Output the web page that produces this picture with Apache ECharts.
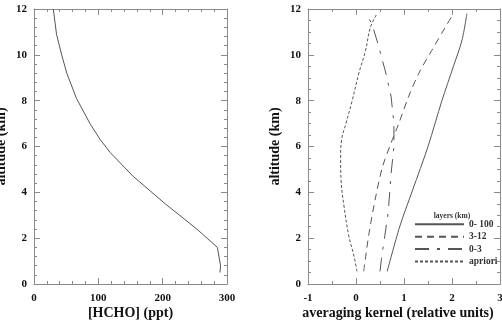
<!DOCTYPE html>
<html>
<head>
<meta charset="utf-8">
<script src="https://cdn.jsdelivr.net/npm/echarts@6/dist/echarts.min.js"></script>
<style>
  html, body { margin: 0; padding: 0; background: #fff; }
  #chart { width: 502px; height: 320px; }
</style>
</head>
<body>
<div id="chart"></div>
<script>
// 左图：HCHO 廓线
const hchoAlt = [0.5, 0.8, 1.6, 2.4, 3.5, 4.7, 5.75, 6.3, 7.0, 8.1, 9.2, 10.0, 10.9, 12.0];
const hchoVal = [289, 290, 285, 253, 204, 154, 118, 103, 87, 66, 51, 43, 35, 30];

// 右图：平均核
const solidAlt = [0.55, 2.5, 4.1, 6.0, 8.0, 9.5, 10.65, 11.8];
const solidVal = [0.65, 0.91, 1.18, 1.5, 1.79, 2.03, 2.21, 2.31];

const dashAlt = [0.55, 2.2, 3.8, 5.1, 6.15, 7.0, 8.2, 9.2, 10.2, 11.2, 11.8];
const dashVal = [0.16, 0.27, 0.41, 0.55, 0.73, 0.89, 1.10, 1.31, 1.58, 1.86, 2.03];

const dashDotAlt = [0.55, 1.1, 2.1, 3.1, 4.8, 6.0, 7.0, 8.2, 9.3, 10.6, 11.3, 11.8];
const dashDotVal = [0.5, 0.53, 0.6, 0.67, 0.73, 0.79, 0.79, 0.73, 0.61, 0.44, 0.34, 0.22];

const aprioriAlt = [0.55, 1.2, 2.1, 3.4, 4.5, 5.5, 6.3, 7.0, 8.0, 9.2, 10.2, 11.2, 11.8];
const aprioriVal = [0.02, -0.04, -0.15, -0.25, -0.31, -0.32, -0.3, -0.21, -0.08, 0.06, 0.2, 0.3, 0.44];

const legendNames = ['0- 100', '3-12', '0-3', 'apriori'];

const font = 'Liberation Serif';
const axisColor = '#8a8a8a';
const lineColor = '#555';

function pairs(vals, alts) {
  return vals.map((v, i) => [v, alts[i]]);
}

// 坐标轴（带内刻度，四边框）
function makeAxis(opt) {
  return Object.assign({
    type: 'value',
    nameMoveOverlap: false,
    axisLine: { show: true, onZero: false, lineStyle: { color: axisColor, width: 1 } },
    axisTick: { show: true, inside: true, length: 6, lineStyle: { color: axisColor } },
    minorTick: { show: true, length: 3, lineStyle: { color: axisColor } },
    splitLine: { show: false },
    axisLabel: { show: true, color: '#111', fontFamily: font, fontWeight: 'bold', fontSize: 11 },
    nameTextStyle: { color: '#111', fontFamily: font, fontWeight: 'bold', fontSize: 14 }
  }, opt);
}

const chart = echarts.init(document.getElementById('chart'));

const option = {
  animation: false,
  graphic: [{
    type: 'text',
    x: 452,
    y: 216,
    style: {
      text: 'layers (km)',
      align: 'center',
      verticalAlign: 'middle',
      fontFamily: font,
      fontWeight: 'bold',
      fontSize: 7.5,
      fill: '#333'
    }
  }],
  legend: {
    data: legendNames,
    orient: 'vertical',
    left: 414,
    top: 219.3,
    itemWidth: 49,
    itemHeight: 10,
    itemGap: 2.4,
    padding: 0,
    itemStyle: { opacity: 0 },
    textStyle: { fontFamily: font, fontWeight: 'bold', fontSize: 9.5, color: '#333' }
  },
  grid: [
    { left: 34, top: 9, width: 193, height: 275, outerBoundsMode: 'none', containLabel: false },
    { left: 308, top: 9, width: 192, height: 275, outerBoundsMode: 'none', containLabel: false }
  ],
  xAxis: [
    makeAxis({
      gridIndex: 0, min: 0, max: 300, interval: 100,
      minorTick: { show: true, splitNumber: 5, length: 3, lineStyle: { color: axisColor } },
      axisLabel: { show: true, margin: 9, color: '#111', fontFamily: font, fontWeight: 'bold', fontSize: 11 },
      name: '[HCHO] (ppt)', nameLocation: 'middle', nameGap: 22
    }),
    makeAxis({
      gridIndex: 0, min: 0, max: 300, interval: 100, position: 'top',
      minorTick: { show: true, splitNumber: 5, length: 3, lineStyle: { color: axisColor } },
      axisLabel: { show: false }
    }),
    makeAxis({
      gridIndex: 1, min: -1, max: 3, interval: 1,
      minorTick: { show: true, splitNumber: 2, length: 3, lineStyle: { color: axisColor } },
      axisLabel: { show: true, margin: 9, color: '#111', fontFamily: font, fontWeight: 'bold', fontSize: 11 },
      name: 'averaging kernel (relative units)', nameLocation: 'middle', nameGap: 22,
      nameTextStyle: { color: '#111', fontFamily: font, fontWeight: 'bold', fontSize: 14, padding: [0, 12, 0, 0] }
    }),
    makeAxis({
      gridIndex: 1, min: -1, max: 3, interval: 1, position: 'top',
      minorTick: { show: true, splitNumber: 2, length: 3, lineStyle: { color: axisColor } },
      axisLabel: { show: false }
    })
  ],
  yAxis: [
    makeAxis({
      gridIndex: 0, min: 0, max: 12, interval: 2,
      minorTick: { show: true, splitNumber: 5, length: 3, lineStyle: { color: axisColor } },
      axisLabel: { show: true, margin: 7, color: '#111', fontFamily: font, fontWeight: 'bold', fontSize: 11 },
      name: 'altitude (km)', nameLocation: 'middle', nameGap: 26
    }),
    makeAxis({
      gridIndex: 0, min: 0, max: 12, interval: 2, position: 'right',
      minorTick: { show: true, splitNumber: 5, length: 3, lineStyle: { color: axisColor } },
      axisLabel: { show: false }
    }),
    makeAxis({
      gridIndex: 1, min: 0, max: 12, interval: 2,
      minorTick: { show: true, splitNumber: 4, length: 3, lineStyle: { color: axisColor } },
      axisLabel: { show: true, margin: 7, color: '#111', fontFamily: font, fontWeight: 'bold', fontSize: 11 },
      name: 'altitude (km)', nameLocation: 'middle', nameGap: 26
    }),
    makeAxis({
      gridIndex: 1, min: 0, max: 12, interval: 2, position: 'right',
      minorTick: { show: true, splitNumber: 4, length: 3, lineStyle: { color: axisColor } },
      axisLabel: { show: false }
    })
  ],
  series: [
    {
      type: 'line', xAxisIndex: 0, yAxisIndex: 0,
      data: pairs(hchoVal, hchoAlt),
      showSymbol: false, symbol: 'none',
      lineStyle: { color: lineColor, width: 1 }
    },
    {
      name: legendNames[0], type: 'line', xAxisIndex: 2, yAxisIndex: 2,
      data: pairs(solidVal, solidAlt), symbol: 'none', smooth: 0.3,
      itemStyle: { color: lineColor },
      lineStyle: { color: lineColor, width: 1 }
    },
    {
      name: legendNames[1], type: 'line', xAxisIndex: 2, yAxisIndex: 2,
      data: pairs(dashVal, dashAlt), symbol: 'none', smooth: 0.3,
      itemStyle: { color: lineColor },
      lineStyle: { color: lineColor, width: 1, type: [7, 5] }
    },
    {
      name: legendNames[2], type: 'line', xAxisIndex: 2, yAxisIndex: 2,
      data: pairs(dashDotVal, dashDotAlt), symbol: 'none',
      itemStyle: { color: lineColor },
      lineStyle: { color: lineColor, width: 1, type: [14, 8, 3, 8] }
    },
    {
      name: legendNames[3], type: 'line', xAxisIndex: 2, yAxisIndex: 2,
      data: pairs(aprioriVal, aprioriAlt), symbol: 'none', smooth: 0.4,
      itemStyle: { color: lineColor },
      lineStyle: { color: lineColor, width: 1, type: [3, 2] }
    }
  ]
};

chart.setOption(option);
</script>
</body>
</html>
